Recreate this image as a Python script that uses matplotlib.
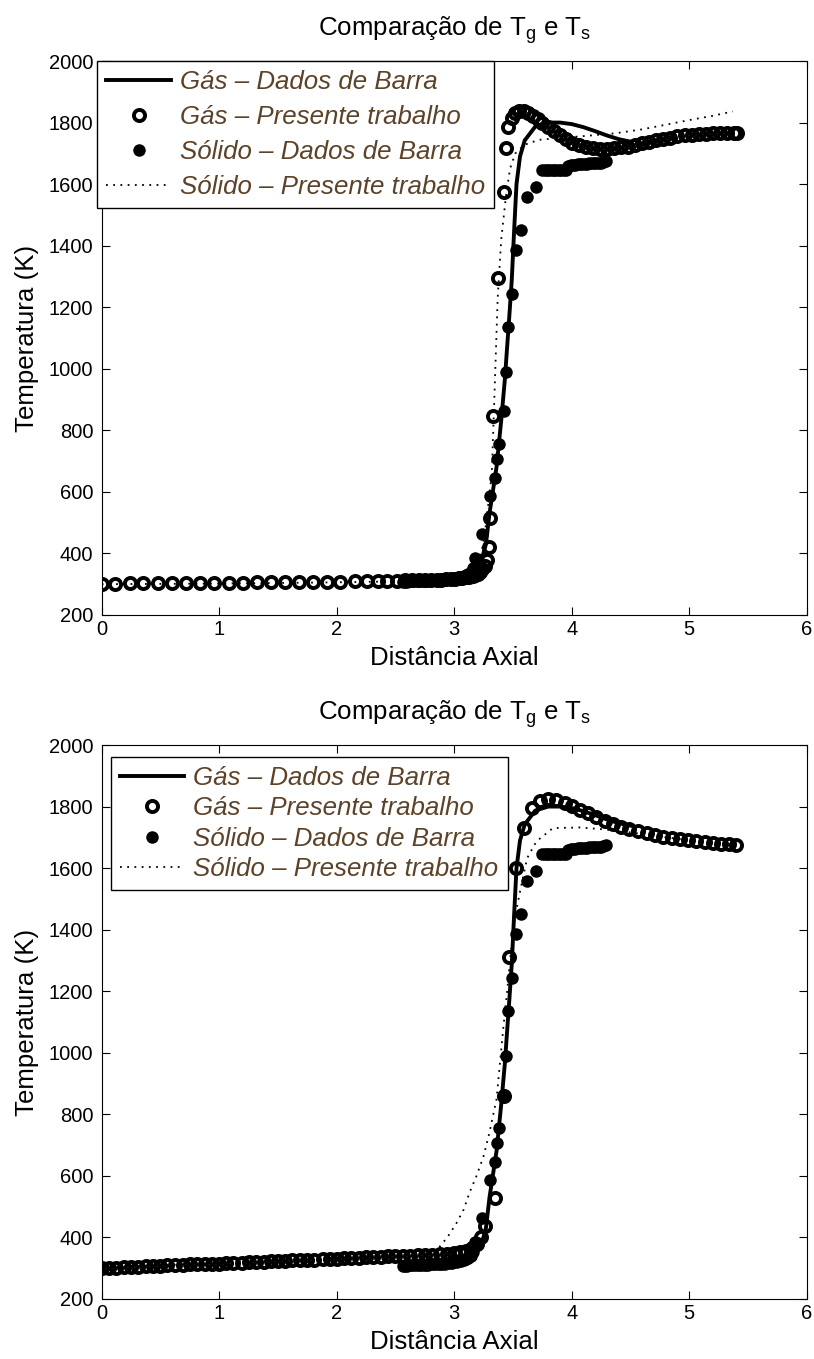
import numpy as np
import matplotlib.pyplot as plt

plt.rcParams['font.family'] = ['Liberation Sans', 'DejaVu Sans']
plt.rcParams['mathtext.fontset'] = 'custom'
plt.rcParams['mathtext.rm'] = 'Liberation Sans'
plt.rcParams['mathtext.it'] = 'Liberation Sans:italic'

# Barra reference data (same in both panels)
barra_gas_x = [2.55, 2.70, 2.85, 3.00, 3.10, 3.18, 3.23, 3.27, 3.30, 3.36, 3.40, 3.43, 3.45, 3.47,
               3.49, 3.51, 3.53, 3.56, 3.60, 3.69, 3.80, 3.90, 4.00, 4.10, 4.20, 4.30, 4.40, 4.50]
barra_gas_T = [318, 320, 324, 330, 338, 350, 375, 430, 529, 680, 832, 961, 1069, 1177,
               1290, 1450, 1600, 1690, 1742, 1787, 1800, 1800, 1795, 1785, 1772, 1758, 1746, 1738]

barra_sol_x = [2.56, 2.58, 2.60, 2.62, 2.64, 2.66, 2.68, 2.70, 2.72, 2.74, 2.76, 2.78, 2.80, 2.82,
               2.84, 2.86, 2.88, 2.90, 2.92, 2.94, 2.96, 2.98, 3.00, 3.02, 3.04, 3.06, 3.08, 3.10,
               3.12, 3.14, 3.16, 3.18,
               3.235, 3.305, 3.345, 3.36, 3.385, 3.425, 3.44, 3.46, 3.495, 3.525, 3.57, 3.62, 3.70,
               3.75, 3.77, 3.79, 3.81, 3.83, 3.85, 3.87, 3.89, 3.91, 3.93, 3.95,
               3.97, 3.99, 4.01, 4.03, 4.05, 4.07, 4.09, 4.11, 4.13, 4.15, 4.17, 4.19, 4.21, 4.23,
               4.25, 4.27, 4.29]
barra_sol_T = [308, 308, 308, 309, 309, 309, 310, 310, 310, 311, 311, 311, 312, 312,
               313, 313, 314, 314, 315, 316, 317, 318, 319, 320, 322, 324, 326, 329,
               333, 340, 352, 385,
               463, 585, 645, 708, 756, 862, 990, 1135, 1243, 1385, 1451, 1557, 1590,
               1645, 1645, 1645, 1645, 1645, 1645, 1645, 1645, 1645, 1645, 1645,
               1660, 1661, 1662, 1663, 1664, 1665, 1665, 1666, 1666, 1667, 1667, 1668, 1668, 1669,
               1670, 1672, 1675]

# presente trabalho - top panel
top_gas_x = [0.00, 0.11, 0.24, 0.35, 0.48, 0.60, 0.72, 0.84, 0.96, 1.08, 1.20, 1.32, 1.44, 1.56,
             1.68, 1.80, 1.92, 2.03, 2.16, 2.26, 2.35, 2.43, 2.51,
             2.58, 2.64, 2.70, 2.75, 2.80, 2.85, 2.89, 2.93, 2.97, 3.01, 3.04, 3.07, 3.10, 3.13,
             3.16, 3.18, 3.20, 3.22, 3.24, 3.26, 3.28,
             3.30, 3.305, 3.33, 3.376, 3.42, 3.44, 3.46, 3.49, 3.52,
             3.55, 3.59, 3.63, 3.67, 3.71, 3.75, 3.80, 3.85, 3.90, 3.95,
             4.00, 4.06, 4.12, 4.18, 4.24, 4.30, 4.36, 4.42, 4.48, 4.54, 4.60, 4.66, 4.72, 4.78,
             4.84, 4.90, 4.96, 5.02, 5.08, 5.14, 5.20, 5.26, 5.32, 5.38, 5.41]
top_gas_T = [302, 302, 303, 303, 303, 304, 304, 304, 305, 305, 305, 306, 306, 306,
             307, 307, 308, 308, 309, 309, 310, 310, 311,
             312, 312, 313, 313, 314, 315, 315, 316, 317, 318, 319, 320, 322, 324,
             327, 330, 334, 340, 348, 360, 378,
             421, 516, 847, 1295, 1575, 1716, 1786, 1815, 1830,
             1836, 1838, 1832, 1822, 1810, 1800, 1787, 1773, 1760, 1746,
             1735, 1726, 1720, 1716, 1714, 1714, 1716, 1719, 1722, 1727, 1732, 1738, 1743, 1747,
             1751, 1755, 1758, 1761, 1763, 1764, 1765, 1766, 1767, 1767, 1767]

top_sol_x = [0.0, 0.5, 1.0, 1.5, 2.0, 2.5, 2.8, 3.0, 3.1, 3.2, 3.24, 3.26, 3.29, 3.32, 3.345,
             3.37, 3.40, 3.44, 3.475, 3.52, 3.60, 3.72, 3.90, 4.10, 4.37, 4.60, 4.80, 5.00, 5.20, 5.37]
top_sol_T = [300, 301, 302, 304, 306, 309, 313, 318, 326, 370, 420, 464, 560, 660, 945,
             1230, 1420, 1560, 1650, 1700, 1728, 1744, 1750, 1756, 1765, 1778, 1793, 1808, 1822, 1836]

# presente trabalho - bottom panel
bot_gas_x = [0.00, 0.06, 0.12, 0.19, 0.25, 0.31, 0.38, 0.44, 0.50, 0.56, 0.62, 0.69, 0.75, 0.81,
             0.88, 0.94, 1.00, 1.06, 1.12, 1.19, 1.25, 1.31, 1.38, 1.44, 1.50, 1.56, 1.62, 1.69,
             1.75, 1.81, 1.88, 1.94, 2.00, 2.06, 2.12, 2.19, 2.25, 2.31, 2.38, 2.44, 2.50, 2.56,
             2.62, 2.69, 2.75, 2.81, 2.88, 2.94, 3.00,
             3.05, 3.10, 3.15, 3.19, 3.23, 3.26, 3.35, 3.42, 3.47, 3.53, 3.59, 3.66, 3.73, 3.80,
             3.87, 3.94,
             4.00, 4.07, 4.14, 4.21, 4.28, 4.35, 4.42, 4.49, 4.56, 4.64, 4.71, 4.78, 4.85, 4.92,
             4.99, 5.06, 5.13, 5.20, 5.27, 5.34, 5.40]
bot_gas_T = [300, 301, 302, 303, 304, 305, 306, 307, 308, 309, 310, 311, 312, 313,
             314, 314, 315, 316, 317, 318, 319, 320, 321, 322, 323, 324, 325, 326,
             327, 328, 329, 330, 331, 332, 333, 334, 335, 336, 337, 338, 339, 340,
             341, 342, 343, 344, 345, 346, 348,
             352, 357, 365, 378, 400, 436, 529, 860, 1312, 1600, 1730, 1795, 1818, 1826,
             1822, 1812,
             1802, 1790, 1778, 1766, 1754, 1743, 1734, 1726, 1719, 1713, 1707, 1702, 1698, 1694,
             1690, 1687, 1684, 1681, 1679, 1677, 1676]

bot_sol_x = [0.0, 0.5, 1.0, 1.5, 2.0, 2.5, 2.7, 2.8, 2.88, 2.95, 3.02, 3.08, 3.13, 3.19, 3.25,
             3.30, 3.36, 3.42, 3.45, 3.48, 3.52, 3.56, 3.62, 3.70, 3.84, 4.07, 4.30, 4.50, 4.80,
             5.10, 5.40]
bot_sol_T = [301, 309, 317, 325, 333, 341, 346, 352, 371, 405, 447, 490, 545, 600, 664,
             741, 849, 1089, 1198, 1320, 1447, 1524, 1632, 1687, 1730, 1732, 1725, 1716, 1700,
             1686, 1676]

x_ticks = [0, 1, 2, 3, 4, 5, 6]
y_ticks = [200, 400, 600, 800, 1000, 1200, 1400, 1600, 1800, 2000]

labels = ['Gás – Dados de Barra', 'Gás – Presente trabalho',
          'Sólido – Dados de Barra', 'Sólido – Presente trabalho']

big = 18.6
legend_color = '#5c4228'

fig = plt.figure(figsize=(8.14, 13.59), dpi=100)
ax_top = fig.add_axes([0.1249, 0.5475, 0.8662, 0.4076])
ax_bot = fig.add_axes([0.1249, 0.0442, 0.8662, 0.4076])


def draw(ax, gas_x, gas_T, sol_x, sol_T, anchor, spacing):
    ax.plot(barra_gas_x, barra_gas_T, '-', color='k', lw=2.8, label=labels[0])
    ax.plot(gas_x, gas_T, 'o', mfc='none', mec='k', ms=8, mew=2.8, label=labels[1])
    ax.plot(barra_sol_x, barra_sol_T, 'o', color='k', ms=9, mew=0, label=labels[2])
    ax.plot(sol_x, sol_T, color='k', lw=1.3, dashes=(1, 3), label=labels[3])

    ax.set_xlim(0, 6)
    ax.set_ylim(200, 2000)
    ax.set_xticks(x_ticks)
    ax.set_yticks(y_ticks)
    ax.tick_params(direction='in', top=True, right=True, length=5.5, width=0.8,
                   labelsize=14.5)
    ax.tick_params(axis='x', pad=3.5)
    ax.tick_params(axis='y', pad=6)
    for s in ax.spines.values():
        s.set_linewidth(0.8)

    ax.set_title('Comparação de $\\mathrm{T_g}$ e $\\mathrm{T_s}$', fontsize=big, pad=18)
    ax.set_xlabel('Distância Axial', fontsize=big, labelpad=5)
    ax.set_ylabel('Temperatura (K)', fontsize=big, labelpad=7)

    leg = ax.legend(loc='upper left', bbox_to_anchor=anchor, borderaxespad=0,
                    prop={'style': 'italic', 'size': big}, labelcolor=legend_color,
                    fancybox=False, edgecolor='k', framealpha=1, numpoints=1,
                    handlelength=2.5, handletextpad=0.35, borderpad=0.35,
                    labelspacing=spacing)
    leg.get_frame().set_linewidth(1.0)


draw(ax_top, top_gas_x, top_gas_T, top_sol_x, top_sol_T, (-0.006, 1.0), 0.43)
draw(ax_bot, bot_gas_x, bot_gas_T, bot_sol_x, bot_sol_T, (0.0128, 0.979), 0.25)

fig.savefig('out.png', dpi=100)
